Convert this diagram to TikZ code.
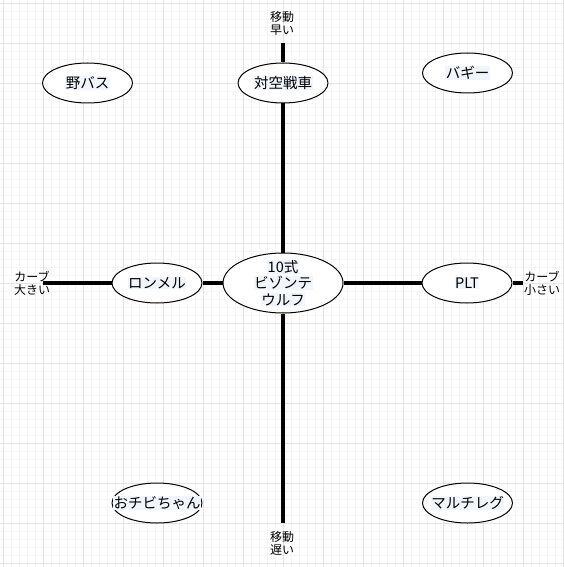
\documentclass[tikz,border=0pt]{standalone}
\usepackage{fontspec}
\setmainfont{Noto Sans CJK JP}
\usetikzlibrary{shapes.geometric}
\definecolor{hlblue}{HTML}{F0F6FC}
\definecolor{gridmajor}{HTML}{E4E4E4}
\definecolor{gridminor}{HTML}{F5F5F5}
\newcommand{\hl}[1]{{\setlength{\fboxsep}{0.5pt}\colorbox{hlblue}{#1}}}

\begin{document}
\begin{tikzpicture}[line join=round,x=1pt,y=-1pt,
  oval/.style={draw=black,line width=1pt,fill=white,ellipse,minimum width=90pt,minimum height=40pt,inner sep=0pt},
  bigoval/.style={oval,minimum width=120pt,minimum height=60pt},
  nodetext/.style={font=\fontsize{14.5}{16.5}\selectfont,align=center,inner sep=0pt},
  axislabel/.style={font=\fontsize{12}{13}\selectfont,align=center,inner sep=0pt},
  axis/.style={line width=4pt}]
\useasboundingbox (0,0) rectangle (564,567);
\fill[white] (0,0) rectangle (564,567);
% grid
\foreach \k in {0,...,70} {
  \draw[gridminor,line width=0.7pt] ({3+8*\k},0) -- ({3+8*\k},567);
  \draw[gridminor,line width=0.7pt] (0,{3+8*\k}) -- (564,{3+8*\k});
}
\foreach \k in {0,...,14} {
  \draw[gridmajor,line width=0.9pt] ({3+40*\k},0) -- ({3+40*\k},567);
  \draw[gridmajor,line width=0.9pt] (0,{3+40*\k}) -- (564,{3+40*\k});
}
% axis ends
\coordinate (fast) at (283,43);
\coordinate (slow) at (283,523);
\coordinate (bigcurve) at (43,283);
\coordinate (smallcurve) at (523,283);
% vehicles
\node[bigoval,label={[nodetext]center:{\hl{10式}\\\hl{ビゾンテ}\\\hl{ウルフ}}}] (bizonte) at (283,283) {};
\node[oval,label={[nodetext]center:\hl{対空戦車}}] (taiku) at (283,83) {};
\node[oval,label={[nodetext]center:\hl{ロンメル}}] (ronmel) at (157,283) {};
\node[oval,label={[nodetext]center:\hl{PLT}}] (plt) at (467,283) {};
\node[oval,label={[nodetext]center:\hl{野バス}}] (yabasu) at (87.5,83) {};
\node[oval,label={[nodetext]center:\hl{バギー}}] (buggy) at (467.5,73) {};
\node[oval,label={[nodetext]center:\hl{おチビちゃん}}] (ochibi) at (157,503) {};
\node[oval,label={[nodetext]center:\hl{マルチレグ}}] (multileg) at (467.5,503) {};
% axes
\draw[axis] (fast) -- (taiku);
\draw[axis] (taiku) -- (bizonte);
\draw[axis] (bizonte) -- (slow);
\draw[axis] (bigcurve) -- (ronmel);
\draw[axis] (ronmel) -- (bizonte);
\draw[axis] (bizonte) -- (plt);
\draw[axis] (plt) -- (smallcurve);
% axis labels
\node[axislabel] (fastlabel) at (282,23) {移動\\早い};
\node[axislabel] (slowlabel) at (282,543) {移動\\遅い};
\node[axislabel] (biglabel) at (32,283) {カーブ\\大きい};
\node[axislabel] (smalllabel) at (542,283) {カーブ\\小さい};
\end{tikzpicture}
\end{document}
